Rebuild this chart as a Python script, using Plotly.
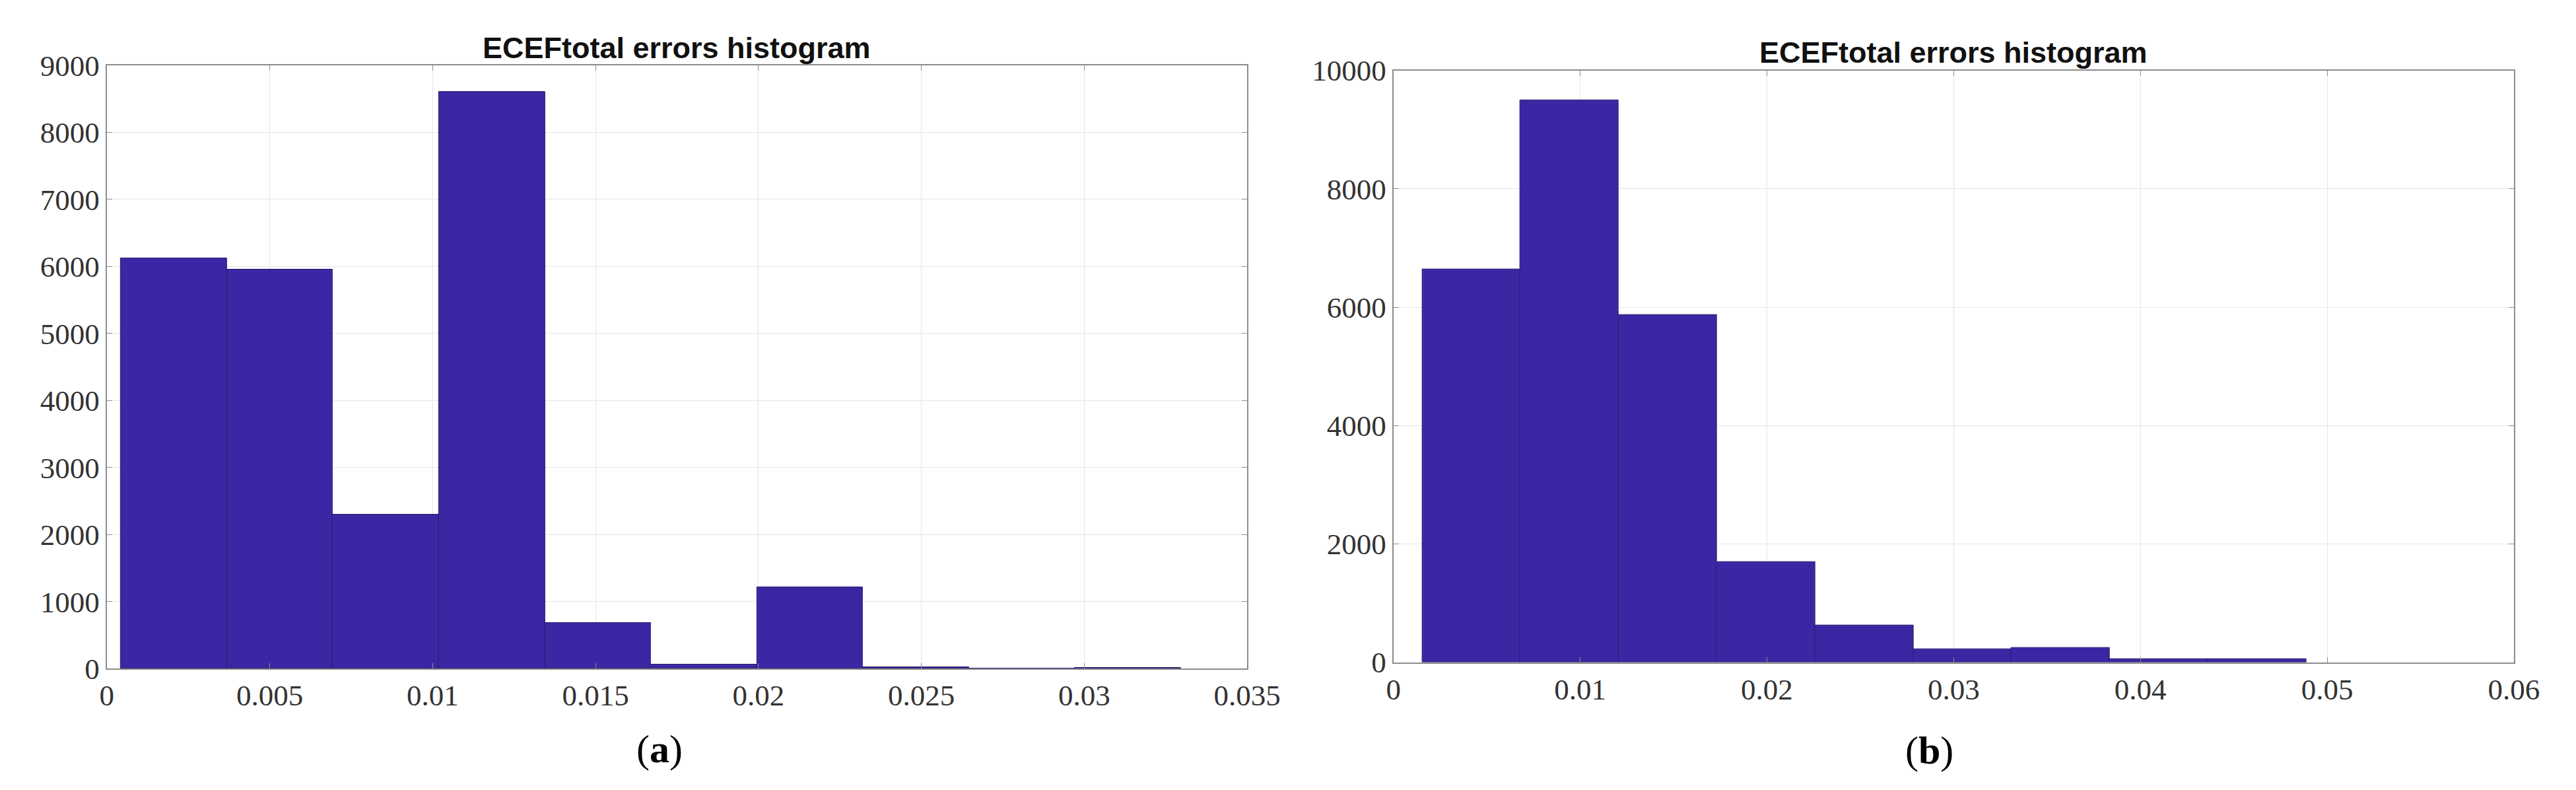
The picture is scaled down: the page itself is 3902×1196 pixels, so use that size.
import plotly.graph_objects as go
from plotly.subplots import make_subplots

# histogram (a)
edges_a = [0.00043, 0.00368, 0.00694, 0.01019, 0.01345, 0.01670,
           0.01995, 0.02321, 0.02646, 0.02971, 0.03296]
counts_a = [6120, 5950, 2300, 8610, 680, 65, 1210, 25, 0, 15]

# histogram (b)
edges_b = [0.00155, 0.00680, 0.01206, 0.01732, 0.02258, 0.02784,
           0.03310, 0.03836, 0.04362, 0.04888]
counts_b = [6640, 9500, 5870, 1700, 630, 220, 250, 55, 60]

title_text = "ECEFtotal errors histogram"
xticks_a = [0, 0.005, 0.01, 0.015, 0.02, 0.025, 0.03, 0.035]
yticks_a = [0, 1000, 2000, 3000, 4000, 5000, 6000, 7000, 8000, 9000]
xticks_b = [0, 0.01, 0.02, 0.03, 0.04, 0.05, 0.06]
yticks_b = [0, 2000, 4000, 6000, 8000, 10000]

bar_color = "#3B27A3"
edge_color = "#2A1C70"
grid_color = "#E6E6E6"
axis_color = "#8C8C8C"
tick_font = dict(family="Liberation Serif, DejaVu Serif, serif", size=45, color="#333333")


def hist_bar(edges, counts):
    centers = [(edges[i] + edges[i + 1]) / 2 for i in range(len(counts))]
    widths = [edges[i + 1] - edges[i] for i in range(len(counts))]
    return go.Bar(x=centers, y=counts, width=widths,
                  marker=dict(color=bar_color, line=dict(color=edge_color, width=1)),
                  showlegend=False)


fig = make_subplots(rows=1, cols=2)
fig.add_trace(hist_bar(edges_a, counts_a), row=1, col=1)
fig.add_trace(hist_bar(edges_b, counts_b), row=1, col=2)

axis_style = dict(showgrid=True, gridcolor=grid_color, gridwidth=1,
                  showline=True, linecolor=axis_color, linewidth=2, mirror="ticks",
                  ticks="inside", ticklen=8, tickcolor=axis_color,
                  tickfont=tick_font, zeroline=False)

fig.update_xaxes(axis_style)
fig.update_yaxes(axis_style)

fig.update_layout(
    xaxis=dict(domain=[0.0372, 0.487], range=[0, 0.035], tickvals=xticks_a,
               ticktext=[f"{v:g}" for v in xticks_a]),
    yaxis=dict(domain=[0.1446, 0.9415], range=[0, 9000], tickvals=yticks_a,
               ticktext=[str(v) for v in yticks_a]),
    xaxis2=dict(domain=[0.5447, 0.9867], range=[0, 0.06], tickvals=xticks_b,
                ticktext=[f"{v:g}" for v in xticks_b]),
    yaxis2=dict(domain=[0.153, 0.9348], range=[0, 10000], tickvals=yticks_b,
                ticktext=[str(v) for v in yticks_b]),
    bargap=0,
    plot_bgcolor="#FFFFFF",
    paper_bgcolor="#FFFFFF",
    width=3902,
    height=1196,
    margin=dict(l=0, r=0, t=0, b=0),
)

title_font = dict(family="Liberation Sans, Arial, sans-serif", size=45, color="#111111")
label_font = dict(family="Liberation Serif, DejaVu Serif, serif", size=60, color="#000000")

fig.add_annotation(text=f"<b>{title_text}</b>", x=(0.0372 + 0.487) / 2, y=1 - 42 / 1196,
                   xref="paper", yref="paper", showarrow=False, font=title_font,
                   xanchor="center", yanchor="middle")
fig.add_annotation(text=f"<b>{title_text}</b>", x=(0.5447 + 0.9867) / 2, y=1 - 50 / 1196,
                   xref="paper", yref="paper", showarrow=False, font=title_font,
                   xanchor="center", yanchor="middle")
fig.add_annotation(text="(<b>a</b>)", x=996 / 3902, y=1 - 1150 / 1196,
                   xref="paper", yref="paper", showarrow=False, font=label_font,
                   xanchor="center", yanchor="middle")
fig.add_annotation(text="(<b>b</b>)", x=2950 / 3902, y=1 - 1152 / 1196,
                   xref="paper", yref="paper", showarrow=False, font=label_font,
                   xanchor="center", yanchor="middle")

fig.write_html("out.html")
